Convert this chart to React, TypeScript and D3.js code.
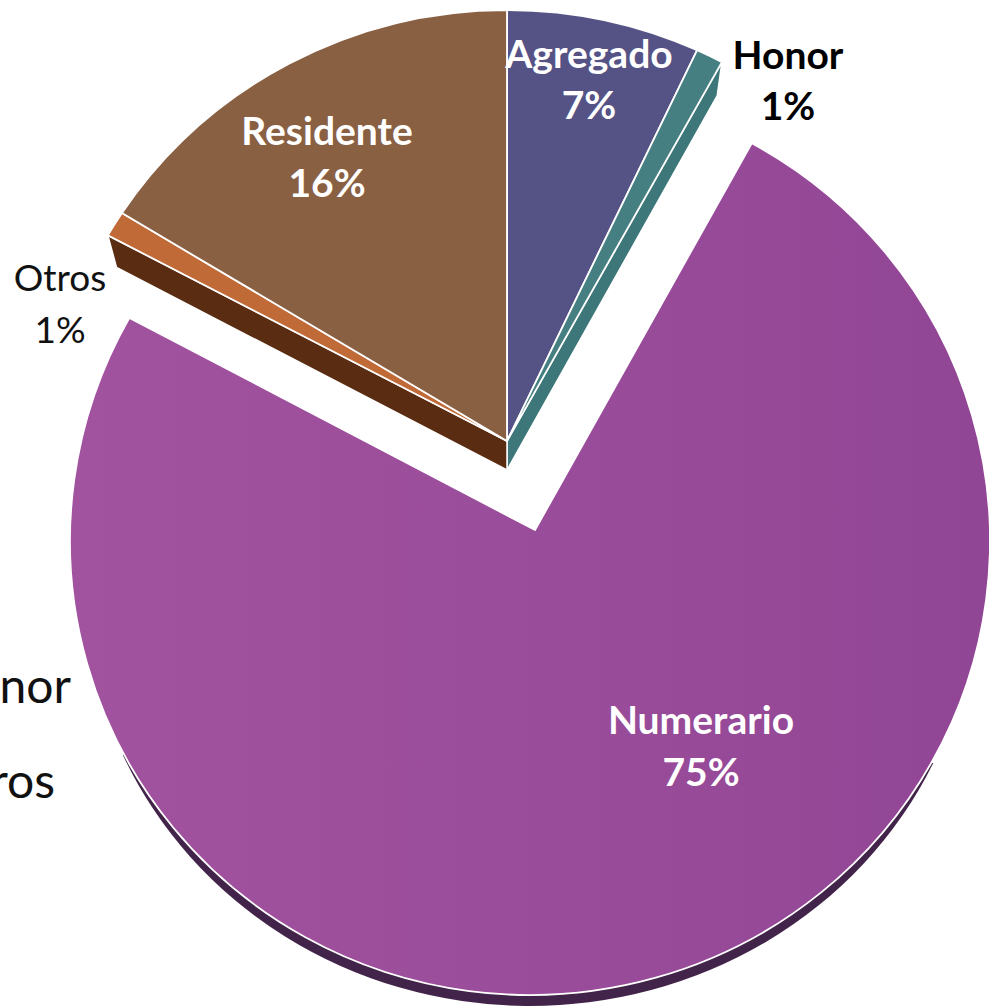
import React from "react";
import * as d3 from "d3";

const categories = ["Agregado", "Honor", "Numerario", "Otros", "Residente"];
const percentLabels = ["7%", "1%", "75%", "1%", "16%"];
const measuredShares = [6.75, 0.95, 75.7, 0.92, 15.68];
const topColors = ["#555385", "#467f82", "url(#numGrad)", "#c06a37", "#8a6043"];
const wallColors = ["", "#3e7779", "", "#5a2d12", ""];
const legendTail = ["Honor", "Otros"];

const W = 989;
const H = 1006;
const deg = Math.PI / 180;

const group = { apex: [507, 441], apexLow: [507, 470], ec: [507, 464], r: [462, 454], wall: [507, 494], wallR: [452, 450] };
const burst = {
  apex: [535, 530],
  ec: [530, 541],
  r: [460, 454],
  side: [530, 585],
  sideR: [445, 421],
  sideFrom: 115 * deg,
  sideTo: 246.2 * deg,
  startNudge: 1.1 * deg,
  endNudge: -0.8 * deg,
};

const pie = d3.pie<number>().sort(null).value((d) => d);
const angles = pie(measuredShares);

const pt = (c: number[], a: number, r: number[]) => [c[0] + r[0] * Math.sin(a), c[1] - r[1] * Math.cos(a)];

function wedge(apex: number[], ec: number[], r: number[], a0: number, a1: number) {
  const s = pt(ec, a0, r);
  const e = pt(ec, a1, r);
  const large = a1 - a0 > Math.PI ? 1 : 0;
  return `M${apex[0]},${apex[1]}L${s[0]},${s[1]}A${r[0]},${r[1]} 0 ${large} 1 ${e[0]},${e[1]}Z`;
}

function wall(a: number) {
  const t = pt(group.ec, a, group.r);
  const b = pt(group.wall, a, group.wallR);
  return `M${group.apex[0]},${group.apex[1]}L${t[0]},${t[1]}L${b[0]},${b[1]}L${group.apexLow[0]},${group.apexLow[1]}Z`;
}

const labelPos: Record<string, { x: number; y: number[]; fill: string; weight: number; size: number }> = {
  Agregado: { x: 589, y: [68, 119], fill: "#fff", weight: 700, size: 39 },
  Honor: { x: 788, y: [69, 120], fill: "#000", weight: 700, size: 39 },
  Numerario: { x: 701, y: [734, 786], fill: "#fff", weight: 700, size: 39 },
  Otros: { x: 60, y: [291, 343], fill: "#111", weight: 400, size: 37 },
  Residente: { x: 327, y: [145, 197], fill: "#fff", weight: 700, size: 39 },
};

export default function App() {
  const iNum = categories.indexOf("Numerario");
  const sideTop = pt(burst.side, burst.sideFrom, burst.sideR);
  const sideEnd = pt(burst.side, burst.sideTo, burst.sideR);
  return (
    <svg width={W} height={H} viewBox={`0 0 ${W} ${H}`} style={{ position: "absolute", left: 0, top: 0, background: "#fff" }}>
      <defs>
        <linearGradient id="numGrad" x1="0" x2="1" y1="0" y2="0">
          <stop offset="0" stopColor="#a2539f" />
          <stop offset="1" stopColor="#914695" />
        </linearGradient>
      </defs>
      {legendTail.map((t, i) => (
        <text key={t} x={i === 0 ? 71 : 55} y={i === 0 ? 703 : 798} textAnchor="end" fontFamily="Lato" fontSize={48} fill="#111">{t}</text>
      ))}
      <path
        d={`M${sideTop[0]},${sideTop[1]}A${burst.sideR[0]},${burst.sideR[1]} 0 0 1 ${sideEnd[0]},${sideEnd[1]}Z`}
        fill="#42234a"
      />
      {angles.map((d, i) =>
        wallColors[i] ? (
          <path key={categories[i]} d={wall(i === 1 ? d.endAngle : d.startAngle)} fill={wallColors[i]} stroke="#fff" strokeWidth={1.5} strokeLinejoin="round" />
        ) : null
      )}
      {angles.map((d, i) => {
        const path = i === iNum
          ? wedge(burst.apex, burst.ec, burst.r, d.startAngle + burst.startNudge, d.endAngle + burst.endNudge)
          : wedge(group.apex, group.ec, group.r, d.startAngle, d.endAngle);
        return (
          <path key={categories[i]} d={path} fill={topColors[i]} stroke="#fff" strokeWidth={1.8} strokeLinejoin="round" />
        );
      })}
      {categories.map((c, i) => {
        const p = labelPos[c];
        return (
          <text key={c} textAnchor="middle" fontFamily="Lato" fontWeight={p.weight} fontSize={p.size} fill={p.fill}>
            <tspan x={p.x} y={p.y[0]}>{c}</tspan>
            <tspan x={p.x} y={p.y[1]}>{percentLabels[i]}</tspan>
          </text>
        );
      })}
    </svg>
  );
}
